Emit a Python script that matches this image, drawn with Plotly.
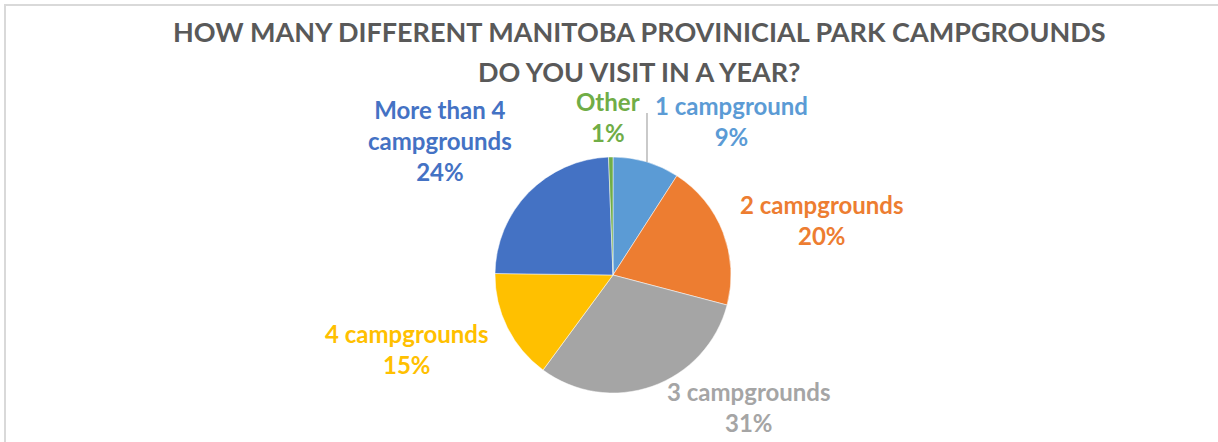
import plotly.graph_objects as go

# Survey answers (share of respondents, %)
categories = ["1 campground", "2 campgrounds", "3 campgrounds",
              "4 campgrounds", "More than 4 campgrounds", "Other"]
shares = [9.1, 20.0, 31.0, 15.1, 24.2, 0.6]
slice_colors = ["#5B9BD5", "#ED7D31", "#A5A5A5", "#FFC000", "#4472C4", "#70AD47"]

title_lines = ["HOW MANY DIFFERENT MANITOBA PROVINICIAL PARK CAMPGROUNDS",
               "DO YOU VISIT IN A YEAR?"]

W, H = 1218, 442
FONT = "Lato"


def px_x(x):
    return x / W


def px_y(y):
    return 1 - y / H


# pie placement (pixel centre and radius)
cx, cy, r = 613, 275, 118

fig = go.Figure(go.Pie(
    labels=categories,
    values=shares,
    sort=False,
    direction="clockwise",
    rotation=0,
    marker=dict(colors=slice_colors, line=dict(color="white", width=0.5)),
    textinfo="none",
    hoverinfo="label+percent",
    showlegend=False,
    domain=dict(x=[px_x(cx - r), px_x(cx + r)], y=[px_y(cy + r), px_y(cy - r)]),
))

# data label placement: (label text lines, centre x, centre y)
label_layout = {
    "1 campground": (["1 campground"], 731, 121),
    "2 campgrounds": (["2 campgrounds"], 822, 220),
    "3 campgrounds": (["3 campgrounds"], 749, 407),
    "4 campgrounds": (["4 campgrounds"], 407, 349),
    "More than 4 campgrounds": (["More than 4", "campgrounds"], 440, 140),
    "Other": (["Other"], 608, 117),
}

annotations = []
for cat, val, col in zip(categories, shares, slice_colors):
    lines, lx, ly = label_layout[cat]
    text = "<br>".join(lines + [f"{val:.0f}%"])
    annotations.append(dict(
        text=text, x=px_x(lx), y=px_y(ly), xref="paper", yref="paper",
        xanchor="center", yanchor="middle", showarrow=False, align="center",
        font=dict(family=FONT, size=24, color=col, weight="bold"),
    ))

for line, ty in zip(title_lines, [32, 72]):
    annotations.append(dict(
        text=line, x=px_x(639), y=px_y(ty), xref="paper", yref="paper",
        xanchor="center", yanchor="middle", showarrow=False,
        font=dict(family=FONT, size=27, color="#595959", weight="bold"),
    ))

shapes = [
    # chart area frame (top and left edges visible)
    dict(type="rect", xref="paper", yref="paper",
         x0=px_x(5), x1=px_x(W + 10), y0=px_y(H + 10), y1=px_y(5),
         line=dict(color="#D9D9D9", width=2), fillcolor="rgba(0,0,0,0)"),
    # leader line for the first slice label
    dict(type="line", xref="paper", yref="paper",
         x0=px_x(647), x1=px_x(647), y0=px_y(113), y1=px_y(162),
         line=dict(color="#A6A6A6", width=1.2)),
]

fig.update_layout(
    width=W, height=H,
    margin=dict(l=0, r=0, t=0, b=0),
    paper_bgcolor="white",
    plot_bgcolor="white",
    annotations=annotations,
    shapes=shapes,
)

fig.write_html("out.html")
